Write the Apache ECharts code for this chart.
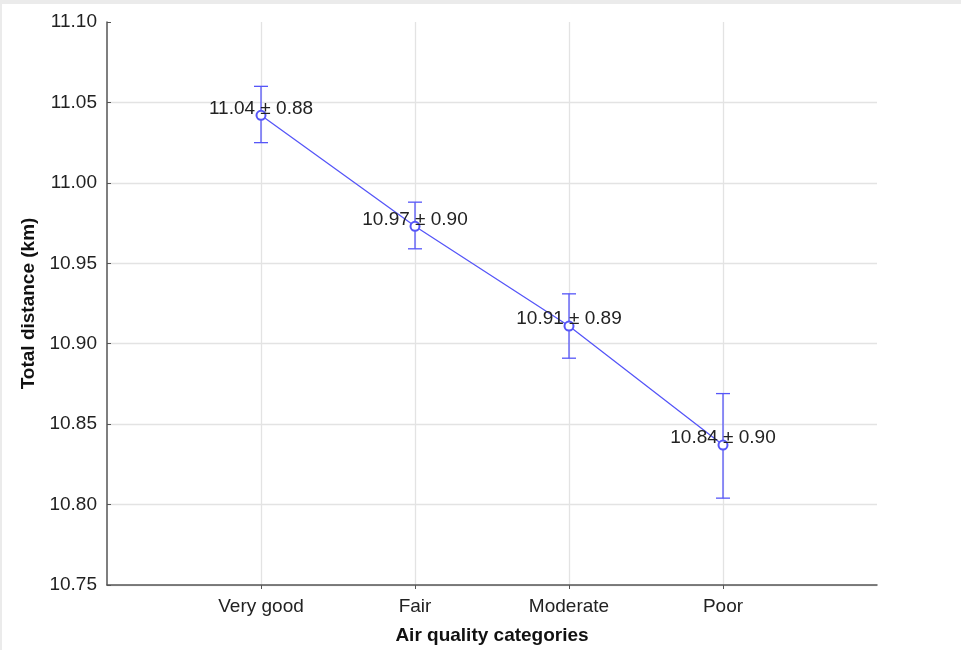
<!DOCTYPE html>
<html>
<head>
<meta charset="utf-8">
<script src="https://cdn.jsdelivr.net/npm/echarts@6/dist/echarts.min.js"></script>
<style>
html,body{margin:0;padding:0;background:#fff;overflow:hidden;}
#c{width:961px;height:650px;}
</style>
</head>
<body>
<div id="c"></div>
<script>
var categories = ['Very good', 'Fair', 'Moderate', 'Poor'];
var means = [11.042, 10.973, 10.911, 10.837];
var ciLow = [11.025, 10.959, 10.891, 10.804];
var ciHigh = [11.060, 10.988, 10.931, 10.869];
var meanLabels = ['11.04', '10.97', '10.91', '10.84'];
var sdLabels = ['0.88', '0.90', '0.89', '0.90'];
var yTicks = [10.75, 10.80, 10.85, 10.90, 10.95, 11.00, 11.05, 11.10];

var padded = [''].concat(categories).concat(['']);
var lineData = means.map(function (m, i) { return [i + 1, m]; });
var errData = means.map(function (m, i) { return [i + 1, ciLow[i], ciHigh[i]]; });
var BLUE = '#5656f8';
var FONT = 'Liberation Sans, Arial, sans-serif';
var FS = 19;

var chart = echarts.init(document.getElementById('c'), null, {renderer: 'canvas'});
chart.setOption({
  animation: false,
  backgroundColor: '#ffffff',
  graphic: [
    {type: 'rect', shape: {x: 0, y: 0, width: 961, height: 4}, style: {fill: '#ebebeb'}, silent: true},
    {type: 'rect', shape: {x: 0, y: 0, width: 2, height: 650}, style: {fill: '#ebebeb'}, silent: true}
  ],
  grid: {left: 107, right: 84, top: 22, bottom: 63, containLabel: false},
  xAxis: {
    type: 'category',
    data: padded,
    boundaryGap: false,
    name: 'Air quality categories',
    nameLocation: 'middle',
    nameGap: 41,
    nameTextStyle: {fontFamily: FONT, fontWeight: 'bold', fontSize: FS, color: '#111'},
    axisLine: {lineStyle: {color: '#555', width: 1.5}},
    axisTick: {show: true, length: 4, lineStyle: {color: '#555'},
      interval: function (i) { return i >= 1 && i <= categories.length; }},
    axisLabel: {fontFamily: FONT, fontSize: FS, color: '#222', margin: 12,
      interval: function (i) { return i >= 1 && i <= categories.length; }},
    splitLine: {show: true, lineStyle: {color: '#e3e3e3', width: 1.3},
      interval: function (i) { return i >= 1 && i <= categories.length; }}
  },
  yAxis: {
    type: 'value',
    min: yTicks[0],
    max: yTicks[yTicks.length - 1],
    interval: 0.05,
    name: 'Total distance (km)',
    nameLocation: 'middle',
    nameGap: 69,
    nameTextStyle: {fontFamily: FONT, fontWeight: 'bold', fontSize: FS, color: '#111'},
    axisLine: {show: true, lineStyle: {color: '#555', width: 1.5}},
    axisTick: {show: true, inside: true, length: 4, lineStyle: {color: '#555'}},
    axisLabel: {fontFamily: FONT, fontSize: FS, color: '#222', margin: 10,
      formatter: function (v) { return v.toFixed(2); }},
    splitLine: {show: true, showMaxLine: false, lineStyle: {color: '#e3e3e3', width: 1.3}}
  },
  series: [
    {
      type: 'line',
      data: lineData,
      symbol: 'emptyCircle',
      symbolSize: 9,
      itemStyle: {color: BLUE, borderColor: BLUE, borderWidth: 1.3},
      lineStyle: {color: BLUE, width: 1.3},
      label: {
        show: true,
        position: 'top',
        distance: -8,
        fontFamily: FONT,
        fontSize: FS,
        color: '#222',
        formatter: function (p) { return meanLabels[p.dataIndex] + ' \u00b1 ' + sdLabels[p.dataIndex]; }
      },
      z: 3
    },
    {
      type: 'custom',
      data: errData,
      renderItem: function (params, api) {
        var x = api.value(0);
        var lo = api.coord([x, api.value(1)]);
        var hi = api.coord([x, api.value(2)]);
        var w = 7;
        var st = {stroke: BLUE, lineWidth: 1.3, fill: null};
        return {
          type: 'group',
          children: [
            {type: 'line', shape: {x1: hi[0], y1: hi[1], x2: lo[0], y2: lo[1]}, style: st},
            {type: 'line', shape: {x1: hi[0] - w, y1: hi[1], x2: hi[0] + w, y2: hi[1]}, style: st},
            {type: 'line', shape: {x1: lo[0] - w, y1: lo[1], x2: lo[0] + w, y2: lo[1]}, style: st}
          ]
        };
      },
      z: 2
    }
  ]
});
</script>
</body>
</html>
